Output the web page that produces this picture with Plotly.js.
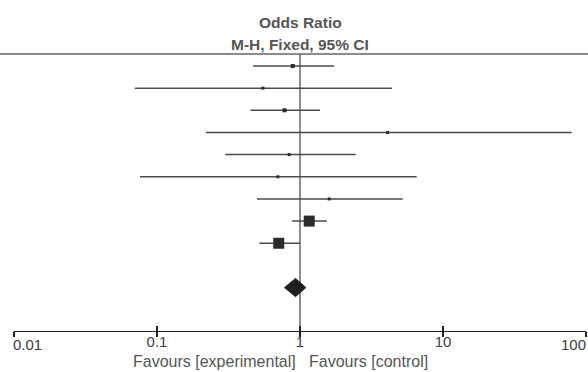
<!DOCTYPE html>
<html>
<head>
<meta charset="utf-8">
<script src="https://cdn.plot.ly/plotly-3.0.1.min.js"></script>
<style>html,body{margin:0;padding:0;background:#fff}#chart{width:588px;height:372px}</style>
</head>
<body>
<div id="chart"></div>
<script>
// ---- data ----
const studyOR    = [0.89, 0.55, 0.78, 4.10, 0.84, 0.70, 1.60, 1.16, 0.71];
const ciLower    = [0.47, 0.070, 0.45, 0.22, 0.30, 0.076, 0.50, 0.88, 0.52];
const ciUpper    = [1.73, 4.40, 1.38, 79.4, 2.45, 6.55, 5.23, 1.54, 1.00];
const pooledOR   = 0.93;
const pooledLower = 0.78;
const pooledUpper = 1.10;
const tickValues = [0.01, 0.1, 1, 10, 100];
const tickLabels = ["0.01", "0.1", "1", "10", "100"];
const titleLines = ["Odds Ratio", "M-H, Fixed, 95% CI"];
const favoursLabels = ["Favours [experimental]", "Favours [control]"];

// ---- styles ----
const markerSizes = [4, 3, 4, 3, 3, 3, 3, 11, 11];
const rowIdx = studyOR.map((_, i) => i);
const pooledRow = studyOR.length + 1;
const diamondHalfH = 0.41;
const FONT = "Liberation Sans, Arial, sans-serif";
const LABEL_Y = (331 - 344) / 277;   // paper y of the tick-label centres
const FAV_Y = (331 - 361.5) / 277;

const last = tickLabels.length - 1;
// inner tick labels on the axis; the two end labels are kept inside the figure
const axisTickText = tickLabels.map((t, i) => (i === 0 || i === last) ? "" : t);

const traces = [];
// null line
traces.push({
  x: [1, 1], y: [-0.6, 12.1], mode: 'lines', xaxis: 'x', yaxis: 'y',
  line: {color: '#666', width: 1.5}, hoverinfo: 'skip', showlegend: false, cliponaxis: false
});
// studies with CIs
traces.push({
  x: studyOR, y: rowIdx, mode: 'markers', type: 'scatter',
  marker: {symbol: 'square', size: markerSizes, color: '#2b2b2b', opacity: 1, line: {width: 0}},
  error_x: {
    type: 'data', symmetric: false,
    array: studyOR.map((v, i) => ciUpper[i] - v),
    arrayminus: studyOR.map((v, i) => v - ciLower[i]),
    width: 0, thickness: 1.5, color: '#4a4a4a'
  },
  hoverinfo: 'x', showlegend: false
});
// pooled diamond
traces.push({
  x: [pooledLower, pooledOR, pooledUpper, pooledOR, pooledLower],
  y: [pooledRow, pooledRow - diamondHalfH, pooledRow, pooledRow + diamondHalfH, pooledRow],
  mode: 'lines', fill: 'toself', fillcolor: '#1e1e1e', line: {color: '#1e1e1e', width: 1},
  hoverinfo: 'skip', showlegend: false
});
// helper trace on the overlay axis (outer ticks)
traces.push({
  x: [1], y: [0], xaxis: 'x2', yaxis: 'y', mode: 'markers',
  marker: {opacity: 0}, hoverinfo: 'skip', showlegend: false
});

const axisBase = {
  type: 'log', range: [-2, 2], tickvals: tickValues, showgrid: false, zeroline: false,
  fixedrange: true
};

const tickFont = {family: FONT, size: 15, color: '#3c3c3c'};

const layout = {
  width: 588, height: 372,
  margin: {l: 14, r: 2, t: 54, b: 41},
  paper_bgcolor: '#fff', plot_bgcolor: '#fff',
  showlegend: false,
  xaxis: Object.assign({}, axisBase, {
    ticktext: axisTickText, ticks: 'inside', ticklen: 5, tickwidth: 1.3, tickcolor: '#222',
    showline: true, linecolor: '#222', linewidth: 1.3,
    tickfont: tickFont, ticklabelstandoff: -3
  }),
  xaxis2: Object.assign({}, axisBase, {
    overlaying: 'x', anchor: 'y', side: 'bottom',
    ticks: 'outside', ticklen: 5, tickwidth: 1.3, tickcolor: '#222',
    showticklabels: false, showline: false
  }),
  yaxis: {range: [11.96, -0.54], visible: false, fixedrange: true},
  shapes: [
    {type: 'line', xref: 'paper', yref: 'paper', x0: -14/572, x1: 1 + 2/572, y0: 1, y1: 1,
     line: {color: '#666', width: 1.5}}
  ],
  annotations: [
    {text: titleLines[0], xref: 'paper', yref: 'paper', x: 0.5, y: (331-23)/277,
     xanchor: 'center', yanchor: 'middle', showarrow: false,
     font: {family: FONT, size: 15.5, color: '#555', weight: 'bold'}},
    {text: titleLines[1], xref: 'paper', yref: 'paper', x: 0.5, y: (331-45)/277,
     xanchor: 'center', yanchor: 'middle', showarrow: false,
     font: {family: FONT, size: 15.5, color: '#555', weight: 'bold'}},
    {text: tickLabels[0], xref: 'x', yref: 'paper', x: Math.log10(tickValues[0]), y: LABEL_Y,
     xanchor: 'left', yanchor: 'middle', showarrow: false, xshift: -3, font: tickFont},
    {text: tickLabels[last], xref: 'x', yref: 'paper', x: Math.log10(tickValues[last]), y: LABEL_Y,
     xanchor: 'right', yanchor: 'middle', showarrow: false, xshift: 2, font: tickFont},
    {text: favoursLabels[0], xref: 'paper', yref: 'paper', x: 0.5, y: FAV_Y,
     xanchor: 'right', yanchor: 'middle', xshift: -2, showarrow: false,
     font: {family: FONT, size: 16, color: '#555'}},
    {text: favoursLabels[1], xref: 'paper', yref: 'paper', x: 0.5, y: FAV_Y,
     xanchor: 'left', yanchor: 'middle', xshift: 7, showarrow: false,
     font: {family: FONT, size: 16, color: '#555'}}
  ]
};

Plotly.newPlot('chart', traces, layout, {staticPlot: true, displayModeBar: false});
</script>
</body>
</html>
